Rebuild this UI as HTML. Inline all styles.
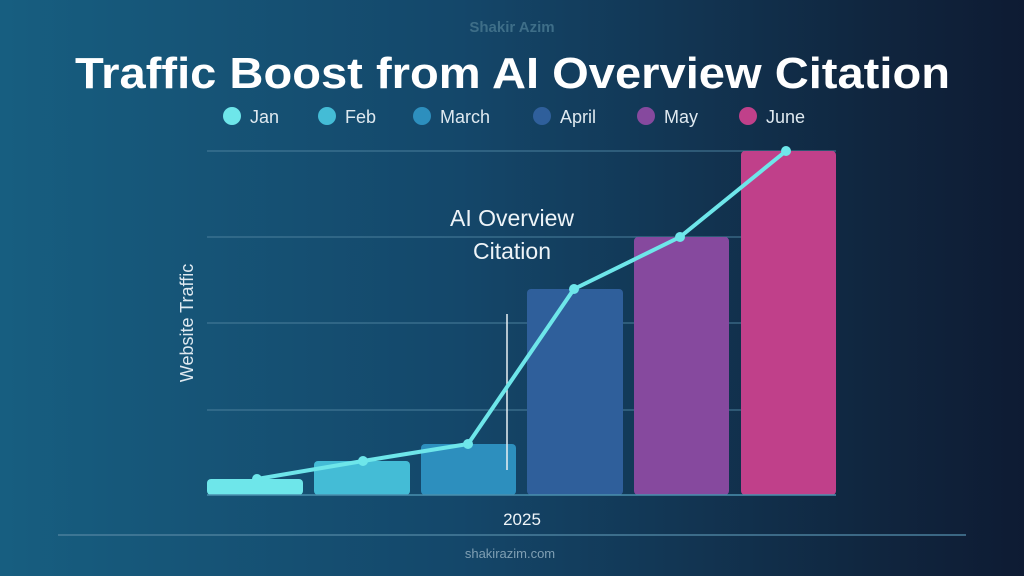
<!DOCTYPE html>
<html><head><style>
body{margin:0;width:1024px;height:576px;overflow:hidden;background:linear-gradient(90deg,#175e80 0%,#14476a 45%,#10263f 85%,#0e1b33 100%);font-family:"Liberation Sans",sans-serif;}
</style></head><body>
<svg width="1024" height="576" xmlns="http://www.w3.org/2000/svg" style="position:absolute;left:0;top:0">
<text x="512" y="32" text-anchor="middle" font-size="15" font-weight="bold" fill="#3e6e88">Shakir Azim</text>
<text x="75" y="88" font-size="44" font-weight="bold" fill="#fff" textLength="875" lengthAdjust="spacingAndGlyphs">Traffic Boost from AI Overview Citation</text>
<g font-size="18" fill="#dfe9f0">
<circle cx="232" cy="116" r="9" fill="#6ee6ea"/><text x="250" y="123">Jan</text>
<circle cx="327" cy="116" r="9" fill="#44bcd6"/><text x="345" y="123">Feb</text>
<circle cx="422" cy="116" r="9" fill="#2d8fbe"/><text x="440" y="123">March</text>
<circle cx="542" cy="116" r="9" fill="#2f5f9b"/><text x="560" y="123">April</text>
<circle cx="646" cy="116" r="9" fill="#86499e"/><text x="664" y="123">May</text>
<circle cx="748" cy="116" r="9" fill="#c0408a"/><text x="766" y="123">June</text>
</g>
<g stroke="#4a7f9c" stroke-width="1">
<line x1="207" y1="151" x2="836" y2="151"/><line x1="207" y1="237" x2="836" y2="237"/>
<line x1="207" y1="323" x2="836" y2="323"/><line x1="207" y1="410" x2="836" y2="410"/>
</g>
<rect x="207" y="479" width="96" height="16" rx="4" fill="#6ee6ea"/>
<rect x="314" y="461" width="96" height="34" rx="4" fill="#44bcd6"/>
<rect x="421" y="444" width="95" height="51" rx="4" fill="#2d8fbe"/>
<rect x="527" y="289" width="96" height="206" rx="4" fill="#2f5f9b"/>
<rect x="634" y="237" width="95" height="258" rx="4" fill="#86499e"/>
<rect x="741" y="151" width="95" height="344" rx="4" fill="#c0408a"/>
<line x1="207" y1="495" x2="836" y2="495" stroke="#4a8fae" stroke-width="1.5"/>
<line x1="507" y1="314" x2="507" y2="470" stroke="#e8f0f4" stroke-width="1.5"/>
<text x="512" y="226" text-anchor="middle" font-size="23" fill="#eef4f8">AI Overview</text>
<text x="512" y="259" text-anchor="middle" font-size="23" fill="#eef4f8">Citation</text>
<polyline points="257,479 363,461 468,444 574,289 680,237 786,151" fill="none" stroke="#6ee6ea" stroke-width="4" stroke-linejoin="round"/>
<g fill="#6ee6ea"><circle cx="257" cy="479" r="5"/><circle cx="363" cy="461" r="5"/><circle cx="468" cy="444" r="5"/><circle cx="574" cy="289" r="5"/><circle cx="680" cy="237" r="5"/><circle cx="786" cy="151" r="5"/></g>
<text transform="translate(193,323) rotate(-90)" text-anchor="middle" font-size="18" fill="#dfe9f0">Website Traffic</text>
<text x="522" y="525" text-anchor="middle" font-size="17" fill="#eef4f8">2025</text>
<line x1="58" y1="535" x2="966" y2="535" stroke="#4a7f9c" stroke-width="1.5"/>
<text x="510" y="558" text-anchor="middle" font-size="13" fill="#7f9fb3">shakirazim.com</text>
</svg>
</body></html>
